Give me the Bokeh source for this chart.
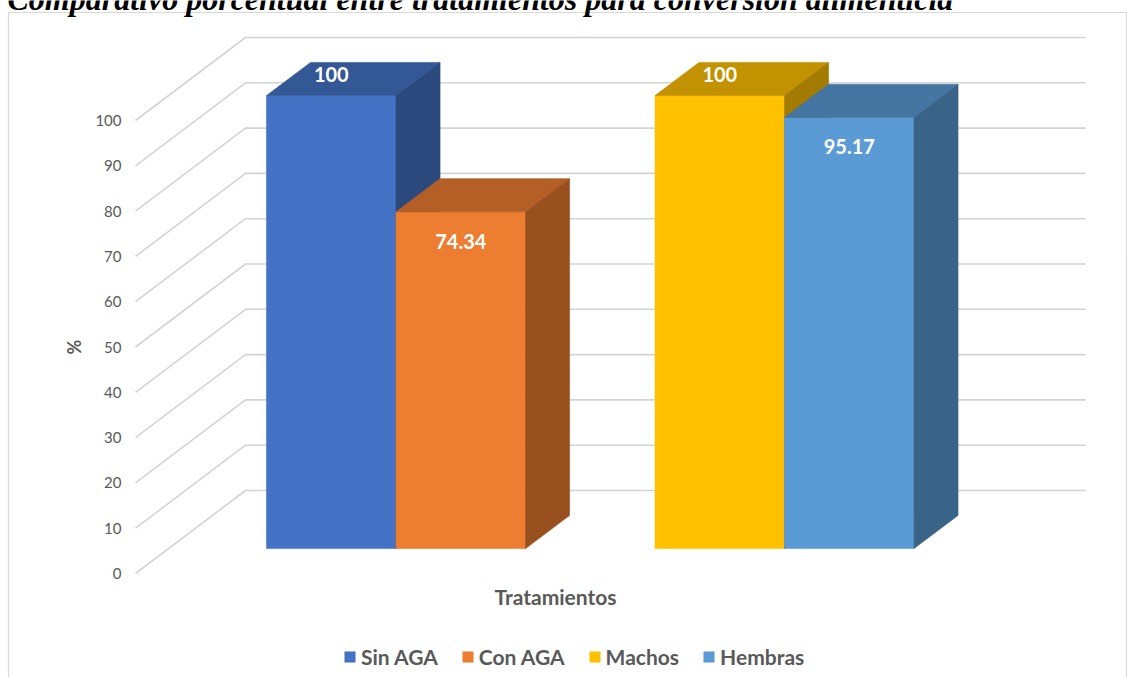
import math
from bokeh.plotting import figure
from bokeh.models import Range1d, Legend, LegendItem
from bokeh.core.properties import value
from bokeh.embed import file_html
from bokeh.resources import INLINE

# ---------------- data ----------------
TITLE = "Comparativo porcentual entre tratamientos para conversión alimenticia"
categories = ["Sin AGA", "Con AGA", "Machos", "Hembras"]
values = [100, 74.34, 100, 95.17]
value_labels = ["100", "74.34", "100", "95.17"]
colors = ["#4472C4", "#ED7D31", "#FFC000", "#5B9BD5"]
y_ticks = [0, 10, 20, 30, 40, 50, 60, 70, 80, 90, 100]
y_tick_labels = [str(t) for t in y_ticks]
x_axis_title = "Tratamientos"
y_axis_title = "%"

# ---------------- layout / projection ----------------
W, H = 1127, 677
PXU = 129.5          # pixels per bar-width unit
PYU = 4.53           # pixels per value unit
OX, OY = 135, 573    # pixel of the front floor corner (x=0, value=0)
DX = 110 / PXU       # full depth offset (x, data units)
DY = 83 / PYU        # full depth offset (y, data units)
Z1, Z2 = 0.30, 0.70  # bar depth span
FLOOR_W = 840 / PXU
TOP_SHADE, SIDE_SHADE = 0.76, 0.64


def sx(px):
    return (px - OX) / PXU


def sy(py):
    return (OY - py) / PYU


def shade(hex_color, f):
    h = hex_color.lstrip("#")
    r, g, b = (int(h[i:i + 2], 16) for i in (0, 2, 4))
    return "#%02x%02x%02x" % (round(r * f), round(g * f), round(b * f))


def P(x, y, z):
    return x + z * DX, y + z * DY


p = figure(width=W, height=H,
           x_range=Range1d(sx(0), sx(W)), y_range=Range1d(sy(H), sy(0)),
           output_backend="svg", toolbar_location=None,
           x_axis_location=None, y_axis_location=None, min_border=0)
p.grid.visible = False
p.outline_line_color = None
p.background_fill_color = "white"
p.border_fill_color = "white"

# chart border
p.line(x=[sx(8), sx(8), sx(1126), sx(1126)], y=[sy(H + 5), sy(12), sy(12), sy(H + 5)],
       line_color="#d9d9d9", line_width=1.2)

# 3D walls: side wall diagonals + back wall horizontals
gx = [[0, DX, DX + FLOOR_W] for t in y_ticks]
gy = [[t, t + DY, t + DY] for t in y_ticks]
p.multi_line(gx, gy, line_color="#d4d4d4", line_width=1.6)

# bars
bar_x0 = [0.757 + i + i // 2 for i in range(len(values))]
front_renderers = []
for b, v, c in zip(bar_x0, values, colors):
    front = [P(b, 0, Z1), P(b + 1, 0, Z1), P(b + 1, v, Z1), P(b, v, Z1)]
    top = [P(b, v, Z1), P(b + 1, v, Z1), P(b + 1, v, Z2), P(b, v, Z2)]
    side = [P(b + 1, 0, Z1), P(b + 1, 0, Z2), P(b + 1, v, Z2), P(b + 1, v, Z1)]
    r = p.patch([q[0] for q in front], [q[1] for q in front],
                fill_color=c, line_color=c, line_width=0.6)
    front_renderers.append(r)
    tc = shade(c, TOP_SHADE)
    p.patch([q[0] for q in top], [q[1] for q in top], fill_color=tc, line_color=tc, line_width=0.6)
    sc = shade(c, SIDE_SHADE)
    p.patch([q[0] for q in side], [q[1] for q in side], fill_color=sc, line_color=sc, line_width=0.6)

# data labels
vmax = max(values)
lx = [b + 0.5 + Z1 * DX for b in bar_x0]
ly = [v + Z1 * DY + (4.7 if v >= vmax else -6.5) for v in values]
p.text(x=lx, y=ly, text=value_labels, text_align="center", text_baseline="middle",
       text_font=value("Lato"), text_font_style="bold", text_font_size="20px",
       text_color="white")

# y tick labels
p.text(x=[sx(121)] * len(y_ticks), y=y_ticks, text=y_tick_labels,
       text_align="right", text_baseline="middle",
       text_font=value("Lato"), text_font_size="15px", text_color="#595959")

# axis titles
p.text(x=[sx(73)], y=[50], text=[y_axis_title], angle=math.pi / 2,
       text_align="center", text_baseline="middle",
       text_font=value("Lato"), text_font_style="bold", text_font_size="18px",
       text_color="#595959")
p.text(x=[FLOOR_W / 2], y=[sy(596)], text=[x_axis_title],
       text_align="center", text_baseline="middle",
       text_font=value("Lato"), text_font_style="bold", text_font_size="21px",
       text_color="#595959")

# title (cut off at the top, as in the reference)
p.text(x=[sx(7)], y=[sy(-2)], text=[TITLE], text_align="left", text_baseline="alphabetic",
       text_font=value("Liberation Serif"), text_font_style="bold italic",
       text_font_size="32px", text_color="black")

# legend
legend = Legend(items=[LegendItem(label=cat, renderers=[r]) for cat, r in zip(categories, front_renderers)],
                orientation="horizontal", location=(343, 8),
                glyph_width=13, glyph_height=13, label_standoff=5, spacing=23,
                padding=0, margin=0, border_line_color=None, background_fill_alpha=0,
                label_text_font="Lato", label_text_font_style="bold",
                label_text_font_size="21px", label_text_color="#595959")
p.add_layout(legend, "center")

open("out.html", "w").write(file_html(p, INLINE))
